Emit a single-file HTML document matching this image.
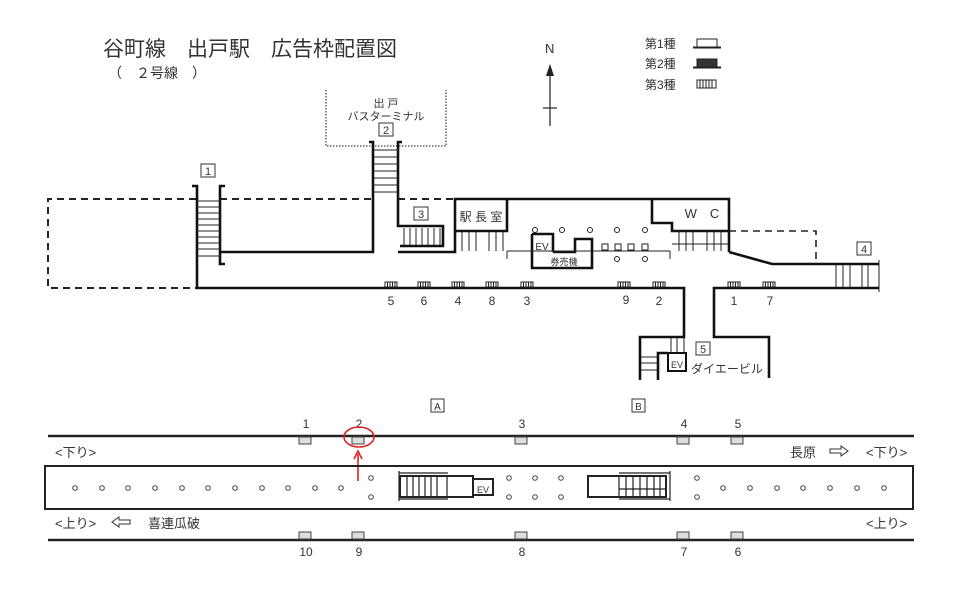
<!DOCTYPE html>
<html><head><meta charset="utf-8"><style>
html,body{margin:0;padding:0;background:#fff;}
svg{display:block;}
text{font-family:"Liberation Sans","Noto Sans CJK JP",sans-serif;fill:#333;}
</style></head><body>
<svg width="960" height="605" viewBox="0 0 960 605" xmlns="http://www.w3.org/2000/svg">
<defs>
<g id="ad3"><rect x="-6" y="-5" width="12" height="5" fill="#fff" stroke="#222" stroke-width="1"/><path d="M-3.5 -5V0M-1 -5V0M1.5 -5V0M4 -5V0" stroke="#222" stroke-width="1"/></g>
<g id="adt"><rect x="-6" y="0" width="12" height="7" fill="#ddd" stroke="#444" stroke-width="1"/></g>
<g id="adb"><rect x="-6" y="-7" width="12" height="7" fill="#ddd" stroke="#444" stroke-width="1"/></g>
</defs>
<!-- Title -->
<text x="103" y="56" font-size="21" fill="#222">谷町線　出戸駅　広告枠配置図</text>
<text x="108" y="78" font-size="14">（　２号線　）</text>
<!-- North -->
<text x="545" y="53" font-size="13">N</text>
<line x1="550" y1="66" x2="550" y2="126" stroke="#222" stroke-width="1.2"/>
<path d="M546 76 L550 64 L554 76 Z" fill="#222"/>
<line x1="543" y1="108" x2="557" y2="108" stroke="#222" stroke-width="1.2"/>
<!-- Legend -->
<text x="645" y="48" font-size="12">第1種</text>
<text x="645" y="68" font-size="12">第2種</text>
<text x="645" y="89" font-size="12">第3種</text>
<rect x="697" y="39" width="20" height="8" fill="#fff" stroke="#222"/><line x1="693" y1="47.5" x2="721" y2="47.5" stroke="#222" stroke-width="2"/>
<rect x="697" y="59" width="20" height="8" fill="#333" stroke="#222"/><line x1="693" y1="67.5" x2="721" y2="67.5" stroke="#222" stroke-width="2"/>
<rect x="697" y="80" width="19" height="8" fill="#fff" stroke="#222"/><path d="M700 80V88M703 80V88M706 80V88M709 80V88M712 80V88" stroke="#222"/>

<!-- Bus terminal dotted -->
<path d="M326 90 V146 H446 V90" fill="none" stroke="#444" stroke-width="1.3" stroke-dasharray="1.5,1.5"/>
<text x="386" y="107" font-size="11" text-anchor="middle">出 戸</text>
<text x="386" y="120" font-size="11" text-anchor="middle">バスターミナル</text>
<rect x="379" y="123" width="14" height="13" fill="#fff" stroke="#333"/><text x="386" y="134" font-size="11" text-anchor="middle">2</text>
<rect x="201" y="164" width="14" height="13" fill="#fff" stroke="#333"/><text x="208" y="175" font-size="11" text-anchor="middle">1</text>
<rect x="414" y="207" width="14" height="13" fill="#fff" stroke="#333"/><text x="421" y="218" font-size="11" text-anchor="middle">3</text>
<rect x="857" y="242" width="14" height="13" fill="#fff" stroke="#333"/><text x="864" y="253" font-size="11" text-anchor="middle">4</text>
<rect x="696" y="342" width="14" height="13" fill="#fff" stroke="#333"/><text x="703" y="353" font-size="11" text-anchor="middle">5</text>

<!-- dashed areas -->
<g fill="none" stroke="#222" stroke-width="2" stroke-dasharray="7,5">
<path d="M196 199 H48 V288 H196"/>
<path d="M220 199 H373"/>
<path d="M398 199 H455"/>
<path d="M729 231 H816 V264" stroke-width="1.6"/>
</g>
<g fill="none" stroke="#111" stroke-width="2.6">
<!-- stair1 -->
<path d="M192 186 H197 V288 H684 V337 H640 V380"/>
<path d="M225 186 H220 V264 H225"/>
<path d="M220 252 H373 V142 H369"/>
<path d="M402 142 H398 V226 H443 V246 H400"/>
<path d="M398 252 H455 V199 H729 V252"/>
<path d="M455 231 H507 V199"/>
<path d="M652 199 V223 H672 V231 H729"/>
<path d="M729 212 V213"/>
<path d="M729 252 L772 264 H879"/>
<path d="M879 288 H714 V337 H769 V378"/>
<path d="M532 234 H553 V252"/>
<path d="M532 234 V268 H592 V239 H575 V252 H553"/>
<path d="M668 371 V353 H686 V371 Z" stroke-width="2"/>
<path d="M658 380 V353 H668"/>
</g>
<g stroke="#222" stroke-width="1" fill="none">
<path d="M197 201H220M197 207H220M197 213H220M197 219H220M197 225H220M197 231H220M197 237H220M197 243H220M197 249H220M197 256H220"/>
<path d="M374 150H398M374 157H398M374 164H398M374 171H398M374 178H398M374 185H398M374 192H398"/>
<path d="M404 228V245M410 228V245M416 228V245M422 228V245M428 228V245M434 228V245M440 228V245"/>
<path d="M462 232V251M469 232V251M476 232V251M489 232V251M496 232V251M503 232V251"/>
<path d="M507 251H670M507 251V259M670 251V259"/>
<path d="M679 231V251M686 231V251M693 231V251M707 231V251M714 231V251M721 231V251M672 244H729"/>
<path d="M836 264V288M843 264V288M850 264V288M862 264V288M868 264V288M879 260V292"/>
<path d="M671 338V352M677 338V352M684 338V352"/>
<path d="M641 357H658M641 363H658M641 370H658"/>
<rect x="602" y="244" width="6" height="6"/><rect x="615" y="244" width="6" height="6"/><rect x="628" y="244" width="6" height="6"/><rect x="642" y="244" width="6" height="6"/>
<circle cx="535" cy="230" r="2.5"/><circle cx="562" cy="230" r="2.5"/><circle cx="590" cy="230" r="2.5"/><circle cx="617" cy="230" r="2.5"/><circle cx="645" cy="230" r="2.5"/>
<circle cx="617" cy="259" r="2.5"/><circle cx="645" cy="259" r="2.5"/>
</g>
<text x="481" y="221" font-size="12" text-anchor="middle">駅 長 室</text>
<text x="702" y="218" font-size="13" text-anchor="middle">W　C</text>
<text x="542" y="250" font-size="10" text-anchor="middle">EV</text>
<text x="564" y="265" font-size="9" text-anchor="middle">券売機</text>
<text x="677" y="368" font-size="9" text-anchor="middle">EV</text>
<text x="691" y="373" font-size="12">ダイエービル</text>
<!-- concourse ads -->
<use href="#ad3" x="391" y="287"/><use href="#ad3" x="424" y="287"/><use href="#ad3" x="458" y="287"/><use href="#ad3" x="492" y="287"/><use href="#ad3" x="527" y="287"/>
<use href="#ad3" x="624" y="287"/><use href="#ad3" x="659" y="287"/><use href="#ad3" x="734" y="287"/><use href="#ad3" x="769" y="287"/>
<g font-size="12" text-anchor="middle">
<text x="391" y="305">5</text><text x="424" y="305">6</text><text x="458" y="305">4</text><text x="492" y="305">8</text><text x="527" y="305">3</text>
<text x="626" y="304">9</text><text x="659" y="305">2</text><text x="734" y="305">1</text><text x="770" y="305">7</text>
</g>

<!-- Platform section -->
<rect x="431" y="399" width="13" height="13" fill="#fff" stroke="#333"/><text x="437.5" y="410" font-size="10" text-anchor="middle">A</text>
<rect x="632" y="399" width="13" height="13" fill="#fff" stroke="#333"/><text x="638.5" y="410" font-size="10" text-anchor="middle">B</text>
<line x1="48" y1="436" x2="914" y2="436" stroke="#222" stroke-width="2.5"/>
<line x1="48" y1="540" x2="914" y2="540" stroke="#222" stroke-width="2.5"/>
<use href="#adt" x="305" y="437"/><use href="#adt" x="358" y="437"/><use href="#adt" x="521" y="437"/><use href="#adt" x="683" y="437"/><use href="#adt" x="737" y="437"/>
<use href="#adb" x="305" y="539"/><use href="#adb" x="358" y="539"/><use href="#adb" x="521" y="539"/><use href="#adb" x="683" y="539"/><use href="#adb" x="737" y="539"/>
<g font-size="12" text-anchor="middle">
<text x="306" y="428">1</text><text x="359" y="428">2</text><text x="522" y="428">3</text><text x="684" y="428">4</text><text x="738" y="428">5</text>
<text x="306" y="556">10</text><text x="359" y="556">9</text><text x="522" y="556">8</text><text x="684" y="556">7</text><text x="738" y="556">6</text>
</g>
<ellipse cx="359" cy="437" rx="15" ry="10" fill="none" stroke="#d22" stroke-width="1.6"/>
<line x1="358" y1="481" x2="358" y2="454" stroke="#d22" stroke-width="1.6"/>
<path d="M354 459 L358 451 L362 459" fill="none" stroke="#d22" stroke-width="1.6"/>
<text x="55" y="457" font-size="13">&lt;下り&gt;</text>
<text x="790" y="457" font-size="13">長原</text>
<path d="M830 449H841V446L848 451L841 456V453H830Z" fill="#fff" stroke="#333"/>
<text x="866" y="457" font-size="13">&lt;下り&gt;</text>
<text x="55" y="528" font-size="13">&lt;上り&gt;</text>
<path d="M130 520H119V517L112 522L119 527V524H130Z" fill="#fff" stroke="#333"/>
<text x="148" y="528" font-size="13">喜連瓜破</text>
<text x="866" y="528" font-size="13">&lt;上り&gt;</text>
<rect x="45" y="466" width="868" height="43" fill="none" stroke="#222" stroke-width="2"/>
<g fill="none" stroke="#444" stroke-width="1">
<circle cx="75" cy="488" r="2.3"/><circle cx="102" cy="488" r="2.3"/><circle cx="128" cy="488" r="2.3"/><circle cx="155" cy="488" r="2.3"/><circle cx="182" cy="488" r="2.3"/><circle cx="208" cy="488" r="2.3"/><circle cx="235" cy="488" r="2.3"/><circle cx="262" cy="488" r="2.3"/><circle cx="288" cy="488" r="2.3"/><circle cx="315" cy="488" r="2.3"/><circle cx="341" cy="488" r="2.3"/>
<circle cx="371" cy="478" r="2.3"/><circle cx="371" cy="497" r="2.3"/>
<circle cx="509" cy="478" r="2.3"/><circle cx="535" cy="478" r="2.3"/><circle cx="561" cy="478" r="2.3"/>
<circle cx="509" cy="497" r="2.3"/><circle cx="535" cy="497" r="2.3"/><circle cx="561" cy="497" r="2.3"/>
<circle cx="697" cy="478" r="2.3"/><circle cx="697" cy="497" r="2.3"/>
<circle cx="723" cy="488" r="2.3"/><circle cx="750" cy="488" r="2.3"/><circle cx="777" cy="488" r="2.3"/><circle cx="803" cy="488" r="2.3"/><circle cx="830" cy="488" r="2.3"/><circle cx="857" cy="488" r="2.3"/><circle cx="884" cy="488" r="2.3"/>
</g>
<g fill="none" stroke="#222">
<path d="M399 473H448M399 499H448M399 471V501" stroke-width="1.2"/>
<rect x="400" y="476" width="73" height="21" stroke-width="2"/>
<path d="M407 476V497M413 476V497M419 476V497M425 476V497M431 476V497M437 476V497M447 476V497" stroke-width="1.2"/>
<rect x="473" y="479" width="20" height="16" stroke-width="2"/>
<path d="M619 473H670M619 499H670M670 471V501" stroke-width="1.2"/>
<rect x="588" y="476" width="78" height="21" stroke-width="2"/>
<path d="M619 476V497M626 476V497M633 476V497M640 476V497M647 476V497M654 476V497M660 476V497M619 489H666" stroke-width="1.2"/>
</g>
<text x="483" y="493" font-size="9" text-anchor="middle">EV</text>
</svg>
</body></html>
